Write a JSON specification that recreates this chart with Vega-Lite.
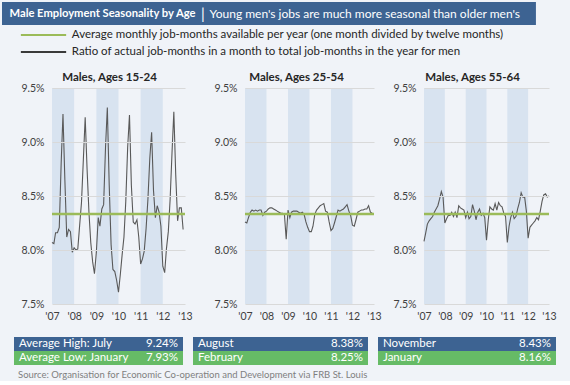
{
"$schema": "https://vega.github.io/schema/vega-lite/v6.json",
"background": "#f0f3f8",
"padding": {"left": 2, "top": 2, "right": 2, "bottom": 1},
"spacing": 0,
"resolve": {"scale": {"color": "independent"}},
"config": {"font": "Lato", "view": {"stroke": null}, "title": {"font": "Lato"}, "axis": {"labelOverlap": false}},
"vconcat": [
{
  "width": 516, "height": 23,
  "data": {"values": [{"title": "Male Employment Seasonality by Age", "sep": "|", "sub": "Young men's jobs are much more seasonal than older men's"}]},
  "encoding": {"y": {"datum": 0.5, "type": "quantitative", "scale": {"domain": [0, 1]}, "axis": null}},
  "layer": [
    {"mark": {"type": "rect", "color": "#3d6392"},
     "encoding": {"x": {"datum": 0, "type": "quantitative", "scale": {"domain": [0, 566], "range": [-50, 516]}, "axis": null}, "x2": {"datum": 566},
       "y": {"datum": 0, "type": "quantitative"}, "y2": {"datum": 1}}},
    {"mark": {"type": "text", "align": "left", "baseline": "middle", "color": "#ffffff", "fontWeight": "bold", "fontSize": 11.2},
     "encoding": {"x": {"datum": 8, "type": "quantitative"}, "text": {"field": "title"}}},
    {"mark": {"type": "text", "align": "left", "baseline": "middle", "color": "#ffffff", "fontSize": 15},
     "encoding": {"x": {"datum": 211, "type": "quantitative"}, "text": {"field": "sep"}}},
    {"mark": {"type": "text", "align": "left", "baseline": "middle", "color": "#ffffff", "fontSize": 12},
     "encoding": {"x": {"datum": 220, "type": "quantitative"}, "text": {"field": "sub"}}}
  ]
},
{
  "width": 516, "height": 46,
  "data": {"values": [
    {"series": "avg", "label": "Average monthly job-months available per year (one month divided by twelve months)"},
    {"series": "ratio", "label": "Ratio of actual job-months in a month  to total job-months in the year for men"}
  ]},
  "encoding": {"y": {"field": "series", "type": "nominal", "scale": {"type": "point", "domain": ["avg", "ratio"], "range": [10, 27], "padding": 0}, "axis": null}},
  "layer": [
    {"mark": {"type": "rule", "strokeWidth": 2},
     "encoding": {"x": {"datum": 20, "type": "quantitative", "scale": {"domain": [0, 566], "range": [-50, 516]}, "axis": null}, "x2": {"datum": 68},
       "color": {"field": "series", "type": "nominal", "scale": {"domain": ["avg", "ratio"], "range": ["#9bbb59", "#3a3a3a"]}, "legend": null}}},
    {"mark": {"type": "text", "align": "left", "baseline": "middle", "fontSize": 11.5, "color": "#262626"},
     "encoding": {"x": {"datum": 74, "type": "quantitative"}, "text": {"field": "label"}}}
  ]
},
{
  "spacing": 10,
  "hconcat": [
  {
    "width": 133, "height": 216,
    "title": {"text": "Males, Ages 15-24", "fontSize": 11.5, "fontWeight": "bold", "color": "#262626", "offset": 0, "dx": -9},
    "layer": [
      {"data": {"values": [{"start": "2007-01-01", "end": "2008-01-01"}, {"start": "2009-01-01", "end": "2010-01-01"}, {"start": "2011-01-01", "end": "2012-01-01"}]},
       "mark": {"type": "rect", "color": "#d8e3f0"},
       "encoding": {
         "x": {"field": "start", "type": "temporal",
           "scale": {"type": "utc", "domain": [{"year": 2007, "month": 1, "date": 1, "utc": true}, {"year": 2013, "month": 1, "date": 1, "utc": true}]},
           "axis": {"values": [{"year": 2007, "month": 1, "date": 1, "utc": true}, {"year": 2008, "month": 1, "date": 1, "utc": true}, {"year": 2009, "month": 1, "date": 1, "utc": true}, {"year": 2010, "month": 1, "date": 1, "utc": true}, {"year": 2011, "month": 1, "date": 1, "utc": true}, {"year": 2012, "month": 1, "date": 1, "utc": true}, {"year": 2013, "month": 1, "date": 1, "utc": true}],
             "tickCount": 7, "format": "'%y", "grid": false, "ticks": false, "tickSize": 0, "domain": false, "labelPadding": 7, "labelFontSize": 10.5, "labelColor": "#404040", "minExtent": 33, "title": null, "labelFlush": false, "labelOverlap": false}},
         "x2": {"field": "end"}}},
      {"data": {"values": [
        {"m":"2007-01-01","v":8.07},{"m":"2007-02-01","v":8.06},{"m":"2007-03-01","v":8.16},{"m":"2007-04-01","v":8.16},{"m":"2007-05-01","v":8.21},{"m":"2007-06-01","v":8.80},{"m":"2007-07-01","v":9.26},{"m":"2007-08-01","v":8.65},{"m":"2007-09-01","v":8.12},{"m":"2007-10-01","v":8.19},{"m":"2007-11-01","v":8.17},{"m":"2007-12-01","v":7.98},
        {"m":"2008-01-01","v":8.02},{"m":"2008-02-01","v":8.00},{"m":"2008-03-01","v":8.01},{"m":"2008-04-01","v":8.23},{"m":"2008-05-01","v":8.44},{"m":"2008-06-01","v":8.84},{"m":"2008-07-01","v":9.23},{"m":"2008-08-01","v":8.75},{"m":"2008-09-01","v":8.35},{"m":"2008-10-01","v":8.07},{"m":"2008-11-01","v":7.89},{"m":"2008-12-01","v":7.78},
        {"m":"2009-01-01","v":7.98},{"m":"2009-02-01","v":8.30},{"m":"2009-03-01","v":8.22},{"m":"2009-04-01","v":8.38},{"m":"2009-05-01","v":8.42},{"m":"2009-06-01","v":8.95},{"m":"2009-07-01","v":9.32},{"m":"2009-08-01","v":8.60},{"m":"2009-09-01","v":8.05},{"m":"2009-10-01","v":7.82},{"m":"2009-11-01","v":7.80},{"m":"2009-12-01","v":7.72},
        {"m":"2010-01-01","v":7.61},{"m":"2010-02-01","v":7.78},{"m":"2010-03-01","v":7.95},{"m":"2010-04-01","v":8.12},{"m":"2010-05-01","v":8.45},{"m":"2010-06-01","v":8.95},{"m":"2010-07-01","v":9.25},{"m":"2010-08-01","v":8.60},{"m":"2010-09-01","v":8.26},{"m":"2010-10-01","v":8.24},{"m":"2010-11-01","v":8.28},{"m":"2010-12-01","v":8.12},
        {"m":"2011-01-01","v":7.87},{"m":"2011-02-01","v":7.92},{"m":"2011-03-01","v":7.99},{"m":"2011-04-01","v":8.20},{"m":"2011-05-01","v":8.47},{"m":"2011-06-01","v":8.85},{"m":"2011-07-01","v":9.09},{"m":"2011-08-01","v":8.55},{"m":"2011-09-01","v":8.30},{"m":"2011-10-01","v":8.41},{"m":"2011-11-01","v":8.35},{"m":"2011-12-01","v":8.22},
        {"m":"2012-01-01","v":7.85},{"m":"2012-02-01","v":7.79},{"m":"2012-03-01","v":8.01},{"m":"2012-04-01","v":8.17},{"m":"2012-05-01","v":8.47},{"m":"2012-06-01","v":8.90},{"m":"2012-07-01","v":9.28},{"m":"2012-08-01","v":8.70},{"m":"2012-09-01","v":8.27},{"m":"2012-10-01","v":8.39},{"m":"2012-11-01","v":8.39},{"m":"2012-12-01","v":8.19}
       ]},
       "mark": {"type": "line", "color": "#595959", "strokeWidth": 1.1},
       "encoding": {"x": {"field": "m", "type": "temporal", "axis": {"labelOverlap": false, "tickCount": 7}},
         "y": {"field": "v", "type": "quantitative", "scale": {"domain": [7.5, 9.5], "nice": false, "zero": false},
           "axis": {"values": [7.5, 8, 8.5, 9, 9.5], "labelExpr": "format(datum.value, '.1f') + '%'", "grid": true, "gridColor": "#d9d9d9", "ticks": false, "tickSize": 0, "domain": false, "labelPadding": 8, "labelFontSize": 10.5, "labelColor": "#404040", "minExtent": 50, "title": null, "zindex": 1}}}},
      {"data": {"values": [{"avg": 8.3333}]},
       "mark": {"type": "rule", "color": "#9bbb59", "strokeWidth": 2.5},
       "encoding": {"y": {"field": "avg", "type": "quantitative"}}}
    ]
  },
  {
    "width": 129, "height": 216,
    "title": {"text": "Males, Ages 25-54", "fontSize": 11.5, "fontWeight": "bold", "color": "#262626", "offset": 0, "dx": -13},
    "layer": [
      {"data": {"values": [{"start": "2007-01-01", "end": "2008-01-01"}, {"start": "2009-01-01", "end": "2010-01-01"}, {"start": "2011-01-01", "end": "2012-01-01"}]},
       "mark": {"type": "rect", "color": "#d8e3f0"},
       "encoding": {
         "x": {"field": "start", "type": "temporal",
           "scale": {"type": "utc", "domain": [{"year": 2007, "month": 1, "date": 1, "utc": true}, {"year": 2013, "month": 1, "date": 1, "utc": true}]},
           "axis": {"values": [{"year": 2007, "month": 1, "date": 1, "utc": true}, {"year": 2008, "month": 1, "date": 1, "utc": true}, {"year": 2009, "month": 1, "date": 1, "utc": true}, {"year": 2010, "month": 1, "date": 1, "utc": true}, {"year": 2011, "month": 1, "date": 1, "utc": true}, {"year": 2012, "month": 1, "date": 1, "utc": true}, {"year": 2013, "month": 1, "date": 1, "utc": true}],
             "tickCount": 7, "format": "'%y", "grid": false, "ticks": false, "tickSize": 0, "domain": false, "labelPadding": 7, "labelFontSize": 10.5, "labelColor": "#404040", "minExtent": 33, "title": null, "labelFlush": false, "labelOverlap": false}},
         "x2": {"field": "end"}}},
      {"data": {"values": [
        {"m":"2007-01-01","v":8.26},{"m":"2007-02-01","v":8.25},{"m":"2007-03-01","v":8.30},{"m":"2007-04-01","v":8.35},{"m":"2007-05-01","v":8.37},{"m":"2007-06-01","v":8.36},{"m":"2007-07-01","v":8.37},{"m":"2007-08-01","v":8.36},{"m":"2007-09-01","v":8.37},{"m":"2007-10-01","v":8.37},{"m":"2007-11-01","v":8.32},{"m":"2007-12-01","v":8.35},
        {"m":"2008-01-01","v":8.36},{"m":"2008-02-01","v":8.38},{"m":"2008-03-01","v":8.39},{"m":"2008-04-01","v":8.39},{"m":"2008-05-01","v":8.38},{"m":"2008-06-01","v":8.37},{"m":"2008-07-01","v":8.36},{"m":"2008-08-01","v":8.35},{"m":"2008-09-01","v":8.34},{"m":"2008-10-01","v":8.34},{"m":"2008-11-01","v":8.33},{"m":"2008-12-01","v":8.10},
        {"m":"2009-01-01","v":8.37},{"m":"2009-02-01","v":8.30},{"m":"2009-03-01","v":8.35},{"m":"2009-04-01","v":8.36},{"m":"2009-05-01","v":8.36},{"m":"2009-06-01","v":8.36},{"m":"2009-07-01","v":8.35},{"m":"2009-08-01","v":8.34},{"m":"2009-09-01","v":8.35},{"m":"2009-10-01","v":8.33},{"m":"2009-11-01","v":8.26},{"m":"2009-12-01","v":8.21},
        {"m":"2010-01-01","v":8.17},{"m":"2010-02-01","v":8.17},{"m":"2010-03-01","v":8.22},{"m":"2010-04-01","v":8.33},{"m":"2010-05-01","v":8.37},{"m":"2010-06-01","v":8.39},{"m":"2010-07-01","v":8.41},{"m":"2010-08-01","v":8.42},{"m":"2010-09-01","v":8.43},{"m":"2010-10-01","v":8.36},{"m":"2010-11-01","v":8.35},{"m":"2010-12-01","v":8.26},
        {"m":"2011-01-01","v":8.18},{"m":"2011-02-01","v":8.20},{"m":"2011-03-01","v":8.25},{"m":"2011-04-01","v":8.31},{"m":"2011-05-01","v":8.37},{"m":"2011-06-01","v":8.36},{"m":"2011-07-01","v":8.37},{"m":"2011-08-01","v":8.38},{"m":"2011-09-01","v":8.40},{"m":"2011-10-01","v":8.42},{"m":"2011-11-01","v":8.36},{"m":"2011-12-01","v":8.32},
        {"m":"2012-01-01","v":8.23},{"m":"2012-02-01","v":8.22},{"m":"2012-03-01","v":8.28},{"m":"2012-04-01","v":8.35},{"m":"2012-05-01","v":8.36},{"m":"2012-06-01","v":8.37},{"m":"2012-07-01","v":8.37},{"m":"2012-08-01","v":8.38},{"m":"2012-09-01","v":8.38},{"m":"2012-10-01","v":8.41},{"m":"2012-11-01","v":8.35},{"m":"2012-12-01","v":8.34}
       ]},
       "mark": {"type": "line", "color": "#595959", "strokeWidth": 1.1},
       "encoding": {"x": {"field": "m", "type": "temporal", "axis": {"labelOverlap": false, "tickCount": 7}},
         "y": {"field": "v", "type": "quantitative", "scale": {"domain": [7.5, 9.5], "nice": false, "zero": false},
           "axis": {"values": [7.5, 8, 8.5, 9, 9.5], "labelExpr": "format(datum.value, '.1f') + '%'", "grid": true, "gridColor": "#d9d9d9", "ticks": false, "tickSize": 0, "domain": false, "labelPadding": 8, "labelFontSize": 10.5, "labelColor": "#404040", "minExtent": 42, "title": null, "zindex": 1}}}},
      {"data": {"values": [{"avg": 8.3333}]},
       "mark": {"type": "rule", "color": "#9bbb59", "strokeWidth": 2.5},
       "encoding": {"y": {"field": "avg", "type": "quantitative"}}}
    ]
  },
  {
    "width": 125, "height": 216,
    "title": {"text": "Males, Ages 55-64", "fontSize": 11.5, "fontWeight": "bold", "color": "#262626", "offset": 0, "dx": -14},
    "layer": [
      {"data": {"values": [{"start": "2007-01-01", "end": "2008-01-01"}, {"start": "2009-01-01", "end": "2010-01-01"}, {"start": "2011-01-01", "end": "2012-01-01"}]},
       "mark": {"type": "rect", "color": "#d8e3f0"},
       "encoding": {
         "x": {"field": "start", "type": "temporal",
           "scale": {"type": "utc", "domain": [{"year": 2007, "month": 1, "date": 1, "utc": true}, {"year": 2013, "month": 1, "date": 1, "utc": true}]},
           "axis": {"values": [{"year": 2007, "month": 1, "date": 1, "utc": true}, {"year": 2008, "month": 1, "date": 1, "utc": true}, {"year": 2009, "month": 1, "date": 1, "utc": true}, {"year": 2010, "month": 1, "date": 1, "utc": true}, {"year": 2011, "month": 1, "date": 1, "utc": true}, {"year": 2012, "month": 1, "date": 1, "utc": true}, {"year": 2013, "month": 1, "date": 1, "utc": true}],
             "tickCount": 7, "format": "'%y", "grid": false, "ticks": false, "tickSize": 0, "domain": false, "labelPadding": 7, "labelFontSize": 10.5, "labelColor": "#404040", "minExtent": 33, "title": null, "labelFlush": false, "labelOverlap": false}},
         "x2": {"field": "end"}}},
      {"data": {"values": [
        {"m":"2007-01-01","v":8.08},{"m":"2007-02-01","v":8.16},{"m":"2007-03-01","v":8.24},{"m":"2007-04-01","v":8.27},{"m":"2007-05-01","v":8.29},{"m":"2007-06-01","v":8.31},{"m":"2007-07-01","v":8.35},{"m":"2007-08-01","v":8.38},{"m":"2007-09-01","v":8.41},{"m":"2007-10-01","v":8.47},{"m":"2007-11-01","v":8.54},{"m":"2007-12-01","v":8.49},
        {"m":"2008-01-01","v":8.25},{"m":"2008-02-01","v":8.29},{"m":"2008-03-01","v":8.32},{"m":"2008-04-01","v":8.32},{"m":"2008-05-01","v":8.35},{"m":"2008-06-01","v":8.31},{"m":"2008-07-01","v":8.35},{"m":"2008-08-01","v":8.30},{"m":"2008-09-01","v":8.41},{"m":"2008-10-01","v":8.39},{"m":"2008-11-01","v":8.38},{"m":"2008-12-01","v":8.37},
        {"m":"2009-01-01","v":8.30},{"m":"2009-02-01","v":8.35},{"m":"2009-03-01","v":8.29},{"m":"2009-04-01","v":8.31},{"m":"2009-05-01","v":8.42},{"m":"2009-06-01","v":8.36},{"m":"2009-07-01","v":8.28},{"m":"2009-08-01","v":8.35},{"m":"2009-09-01","v":8.38},{"m":"2009-10-01","v":8.32},{"m":"2009-11-01","v":8.34},{"m":"2009-12-01","v":8.30},
        {"m":"2010-01-01","v":8.09},{"m":"2010-02-01","v":8.28},{"m":"2010-03-01","v":8.40},{"m":"2010-04-01","v":8.38},{"m":"2010-05-01","v":8.37},{"m":"2010-06-01","v":8.43},{"m":"2010-07-01","v":8.37},{"m":"2010-08-01","v":8.44},{"m":"2010-09-01","v":8.41},{"m":"2010-10-01","v":8.40},{"m":"2010-11-01","v":8.34},{"m":"2010-12-01","v":8.31},
        {"m":"2011-01-01","v":8.07},{"m":"2011-02-01","v":8.22},{"m":"2011-03-01","v":8.30},{"m":"2011-04-01","v":8.35},{"m":"2011-05-01","v":8.29},{"m":"2011-06-01","v":8.31},{"m":"2011-07-01","v":8.38},{"m":"2011-08-01","v":8.44},{"m":"2011-09-01","v":8.53},{"m":"2011-10-01","v":8.49},{"m":"2011-11-01","v":8.49},{"m":"2011-12-01","v":8.36},
        {"m":"2012-01-01","v":8.11},{"m":"2012-02-01","v":8.21},{"m":"2012-03-01","v":8.23},{"m":"2012-04-01","v":8.25},{"m":"2012-05-01","v":8.27},{"m":"2012-06-01","v":8.30},{"m":"2012-07-01","v":8.28},{"m":"2012-08-01","v":8.36},{"m":"2012-09-01","v":8.45},{"m":"2012-10-01","v":8.51},{"m":"2012-11-01","v":8.52},{"m":"2012-12-01","v":8.49},
        {"m":"2013-01-01","v":8.50}
       ]},
       "mark": {"type": "line", "color": "#595959", "strokeWidth": 1.1},
       "encoding": {"x": {"field": "m", "type": "temporal", "axis": {"labelOverlap": false, "tickCount": 7}},
         "y": {"field": "v", "type": "quantitative", "scale": {"domain": [7.5, 9.5], "nice": false, "zero": false},
           "axis": {"values": [7.5, 8, 8.5, 9, 9.5], "labelExpr": "format(datum.value, '.1f') + '%'", "grid": true, "gridColor": "#d9d9d9", "ticks": false, "tickSize": 0, "domain": false, "labelPadding": 8, "labelFontSize": 10.5, "labelColor": "#404040", "minExtent": 32, "title": null, "zindex": 1}}}},
      {"data": {"values": [{"avg": 8.3333}]},
       "mark": {"type": "rule", "color": "#9bbb59", "strokeWidth": 2.5},
       "encoding": {"y": {"field": "avg", "type": "quantitative"}}}
    ]
  }
  ]
},
{
  "spacing": 10,
  "title": {"text": "Source: Organisation for Economic Co-operation and Development via FRB St. Louis", "orient": "bottom", "anchor": "start", "fontSize": 9.5, "fontWeight": "normal", "color": "#7f7f7f", "offset": 5, "dx": 4},
  "hconcat": [
  {
    "width": 131, "height": 28,
    "data": {"values": [{"row": "high", "label": "Average High: July", "value": "9.24%"}, {"row": "low", "label": "Average Low: January", "value": "7.93%"}]},
    "encoding": {"y": {"field": "row", "type": "nominal", "scale": {"domain": ["high", "low"], "paddingInner": 0, "paddingOuter": 0}, "axis": null}},
    "layer": [
      {"transform": [{"filter": "datum.row === 'high'"}], "mark": {"type": "rect", "color": "#3d6392"}, "encoding": {"x": {"datum": 0, "type": "quantitative", "scale": {"domain": [0, 1], "range": [-38, 131]}, "axis": null}, "x2": {"datum": 1}}},
      {"transform": [{"filter": "datum.row === 'low'"}], "mark": {"type": "rect", "color": "#66bb66"}, "encoding": {"x": {"datum": 0, "type": "quantitative"}, "x2": {"datum": 1}}},
      {"mark": {"type": "text", "align": "left", "color": "#ffffff", "fontSize": 11.5, "dx": 5}, "encoding": {"x": {"datum": 0, "type": "quantitative"}, "text": {"field": "label"}}},
      {"mark": {"type": "text", "align": "right", "color": "#ffffff", "fontSize": 11.5, "dx": -5}, "encoding": {"x": {"datum": 1, "type": "quantitative"}, "text": {"field": "value"}}}
    ]
  },
  {
    "width": 175, "height": 28,
    "data": {"values": [{"row": "high", "label": "August", "value": "8.38%"}, {"row": "low", "label": "February", "value": "8.25%"}]},
    "encoding": {"y": {"field": "row", "type": "nominal", "scale": {"domain": ["high", "low"], "paddingInner": 0, "paddingOuter": 0}, "axis": null}},
    "layer": [
      {"transform": [{"filter": "datum.row === 'high'"}], "mark": {"type": "rect", "color": "#3d6392"}, "encoding": {"x": {"datum": 0, "type": "quantitative", "scale": {"domain": [0, 1]}, "axis": null}, "x2": {"datum": 1}}},
      {"transform": [{"filter": "datum.row === 'low'"}], "mark": {"type": "rect", "color": "#66bb66"}, "encoding": {"x": {"datum": 0, "type": "quantitative"}, "x2": {"datum": 1}}},
      {"mark": {"type": "text", "align": "left", "color": "#ffffff", "fontSize": 11.5, "dx": 5}, "encoding": {"x": {"datum": 0, "type": "quantitative"}, "text": {"field": "label"}}},
      {"mark": {"type": "text", "align": "right", "color": "#ffffff", "fontSize": 11.5, "dx": -5}, "encoding": {"x": {"datum": 1, "type": "quantitative"}, "text": {"field": "value"}}}
    ]
  },
  {
    "width": 178, "height": 28,
    "data": {"values": [{"row": "high", "label": "November", "value": "8.43%"}, {"row": "low", "label": "January", "value": "8.16%"}]},
    "encoding": {"y": {"field": "row", "type": "nominal", "scale": {"domain": ["high", "low"], "paddingInner": 0, "paddingOuter": 0}, "axis": null}},
    "layer": [
      {"transform": [{"filter": "datum.row === 'high'"}], "mark": {"type": "rect", "color": "#3d6392"}, "encoding": {"x": {"datum": 0, "type": "quantitative", "scale": {"domain": [0, 1]}, "axis": null}, "x2": {"datum": 1}}},
      {"transform": [{"filter": "datum.row === 'low'"}], "mark": {"type": "rect", "color": "#66bb66"}, "encoding": {"x": {"datum": 0, "type": "quantitative"}, "x2": {"datum": 1}}},
      {"mark": {"type": "text", "align": "left", "color": "#ffffff", "fontSize": 11.5, "dx": 5}, "encoding": {"x": {"datum": 0, "type": "quantitative"}, "text": {"field": "label"}}},
      {"mark": {"type": "text", "align": "right", "color": "#ffffff", "fontSize": 11.5, "dx": -5}, "encoding": {"x": {"datum": 1, "type": "quantitative"}, "text": {"field": "value"}}}
    ]
  }
  ]
}
]
}
